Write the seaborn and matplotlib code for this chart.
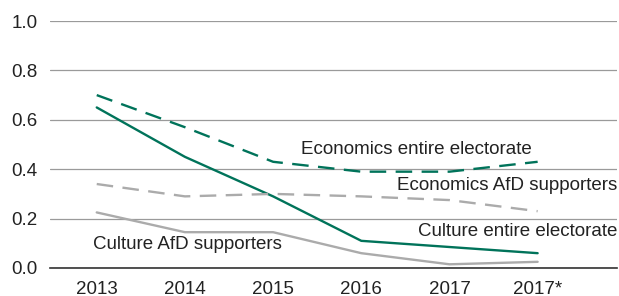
import pandas as pd
import matplotlib.pyplot as plt
import seaborn as sns

# Data
years = ['2013', '2014', '2015', '2016', '2017', '2017*']
econ_entire = [0.70, 0.57, 0.43, 0.39, 0.39, 0.43]
culture_entire = [0.65, 0.45, 0.29, 0.11, 0.085, 0.06]
econ_afd = [0.34, 0.29, 0.30, 0.29, 0.275, 0.23]
culture_afd = [0.225, 0.145, 0.145, 0.06, 0.015, 0.025]

series_names = ['Economics entire electorate', 'Culture entire electorate',
                'Economics AfD supporters', 'Culture AfD supporters']
series_values = [econ_entire, culture_entire, econ_afd, culture_afd]

# Long format for seaborn
rows = []
for name, vals in zip(series_names, series_values):
    for yr, v in zip(years, vals):
        rows.append({'year': yr, 'value': v, 'series': name})
df = pd.DataFrame(rows)

green = '#00735a'
grey = '#ababab'
palette = {series_names[0]: green, series_names[1]: green,
           series_names[2]: grey, series_names[3]: grey}
dashes = {series_names[0]: (7, 4), series_names[1]: '',
          series_names[2]: (7, 4), series_names[3]: ''}

sns.set_style('white')
plt.rcParams['font.family'] = ['Liberation Sans', 'DejaVu Sans']

fig = plt.figure(figsize=(6.19, 2.96), dpi=100)
ax = fig.add_axes([50 / 619, 1 - 268 / 296, 567 / 619, 247 / 296])

sns.lineplot(data=df, x='year', y='value', hue='series', style='series',
             palette=palette, dashes=dashes, linewidth=1.7, legend=False,
             sort=False, ax=ax)

# Axes styling
ax.set_ylim(0, 1.0)
ax.set_xlim(-0.53, 5.9)
ax.set_yticks([0, 0.2, 0.4, 0.6, 0.8, 1.0])
ax.set_yticklabels(['0.0', '0.2', '0.4', '0.6', '0.8', '1.0'])
ax.grid(axis='y', color='#9a9a9a', linewidth=0.9)
ax.set_axisbelow(True)
for s in ['top', 'right', 'left']:
    ax.spines[s].set_visible(False)
ax.spines['bottom'].set_color('#333333')
ax.spines['bottom'].set_linewidth(1.2)
ax.tick_params(axis='both', length=0, labelsize=13.5, colors='#222222')
ax.tick_params(axis='y', pad=9)
ax.tick_params(axis='x', pad=9)
ax.set_xlabel('')
ax.set_ylabel('')

# Inline series labels
lab_kw = dict(fontsize=13.5, color='#222222', va='center')
ax.text(2.32, 0.478, 'Economics entire electorate', ha='left', **lab_kw)
ax.text(5.9, 0.332, 'Economics AfD supporters', ha='right', **lab_kw)
ax.text(5.9, 0.146, 'Culture entire electorate', ha='right', **lab_kw)
ax.text(-0.045, 0.097, 'Culture AfD supporters', ha='left', **lab_kw)

fig.savefig('out.png', dpi=100)
